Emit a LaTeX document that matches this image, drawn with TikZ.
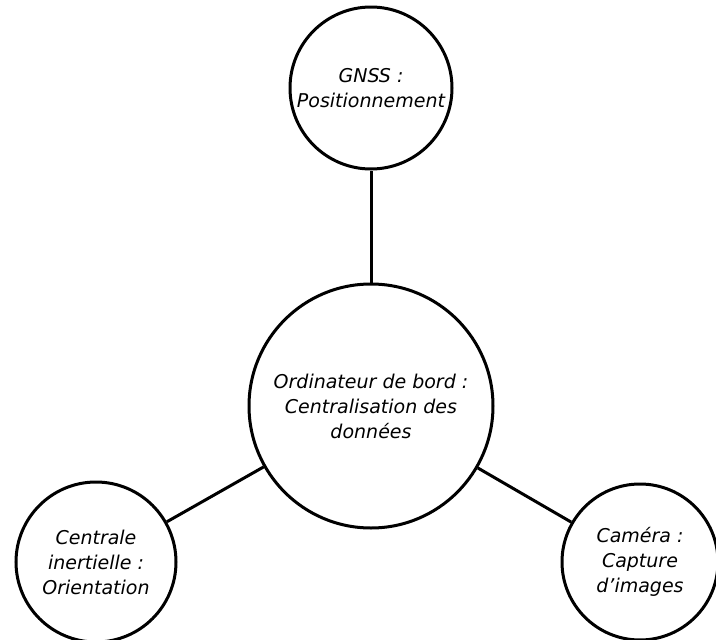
\documentclass[tikz,border=0pt]{standalone}
\usepackage{fontspec}
\setmainfont{DejaVu Sans}
\usetikzlibrary{positioning}

\begin{document}
\begin{tikzpicture}[
  x=1pt, y=-1pt,
  font=\fontsize{19}{25}\selectfont\itshape,
  link/.style={line width=3pt},
  bubble/.style={circle, draw=black, line width=3pt, fill=white,
                 inner sep=0pt, align=center, minimum size=#1}
]
\useasboundingbox (0,0) rectangle (716,640);

% --- Central hub ---
\node[bubble=244] (hub) at (371,406) {Ordinateur de bord :\\Centralisation des\\données};

% --- Sensors around it ---
\node[bubble=162] (gnss) at (371,88) {GNSS :\\Positionnement};
\node[bubble=160] (imu) at (96,562) {Centrale\\inertielle :\\Orientation};
\node[bubble=156] (cam) at (640,562) {Caméra :\\Capture\\d’images};

% --- Links ---
\draw[link] (hub) -- (gnss);
\draw[link] (hub) -- (imu);
\draw[link] (hub) -- (cam);

\end{tikzpicture}
\end{document}
